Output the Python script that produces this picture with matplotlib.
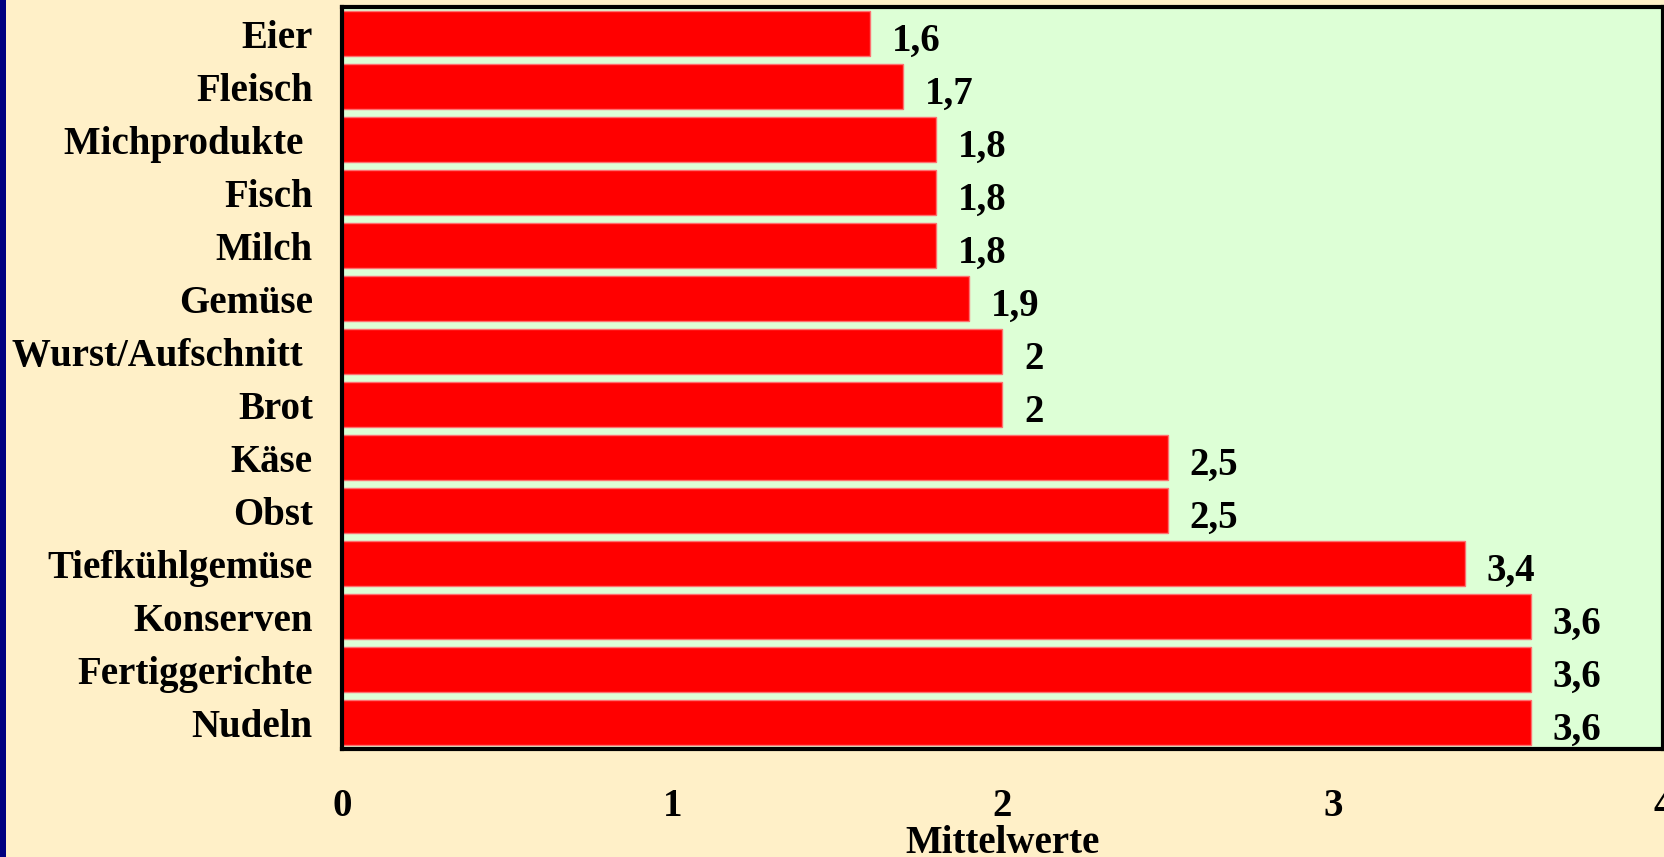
import numpy as np
import matplotlib.pyplot as plt
from matplotlib.patches import Rectangle

categories = ['Eier', 'Fleisch', 'Michprodukte ', 'Fisch', 'Milch', 'Gemüse',
              'Wurst/Aufschnitt ', 'Brot', 'Käse', 'Obst', 'Tiefkühlgemüse',
              'Konserven', 'Fertiggerichte', 'Nudeln']
values = [1.6, 1.7, 1.8, 1.8, 1.8, 1.9, 2.0, 2.0, 2.5, 2.5, 3.4, 3.6, 3.6, 3.6]
value_labels = ['1,6', '1,7', '1,8', '1,8', '1,8', '1,9', '2', '2', '2,5', '2,5',
                '3,4', '3,6', '3,6', '3,6']
xticks = [0, 1, 2, 3, 4]

plt.rcParams['font.family'] = ['Liberation Serif', 'DejaVu Serif']
plt.rcParams['font.weight'] = 'bold'

fig = plt.figure(figsize=(16.65, 8.57), dpi=100, facecolor='#fff0c8')
# blue strip on the left edge
fig.add_artist(Rectangle((0, 0), 6 / 1665, 1, transform=fig.transFigure,
                         facecolor='#000080', edgecolor='none'))

ax = fig.add_axes([342 / 1665, 1 - 749 / 857, (1663 - 342) / 1665, (749 - 7) / 857])
ax.set_facecolor('#ddffd6')

y = np.arange(len(categories))
ax.barh(y, values, height=0.85, color='#ff0000', edgecolor='#ff7070', linewidth=1)
for yi, v, lab in zip(y, values, value_labels):
    ax.text(v + 0.065, yi + 0.15, lab, va='center', ha='left', fontsize=28,
            fontweight='bold')

ax.set_ylim(len(categories) - 0.5, -0.5)
ax.set_xlim(0, 4)
ax.set_yticks(y)
ax.set_yticklabels(categories, fontsize=28, fontweight='bold')
ax.set_xticks(xticks)
ax.set_xticklabels([str(t) for t in xticks], fontsize=28, fontweight='bold')
ax.tick_params(axis='y', length=0, pad=21)
ax.tick_params(axis='x', length=0, pad=28)
ax.set_xlabel('Mittelwerte', fontsize=28, fontweight='bold', labelpad=0)
for s in ax.spines.values():
    s.set_linewidth(3)
    s.set_color('black')

fig.savefig('out.png', dpi=100, facecolor=fig.get_facecolor())
